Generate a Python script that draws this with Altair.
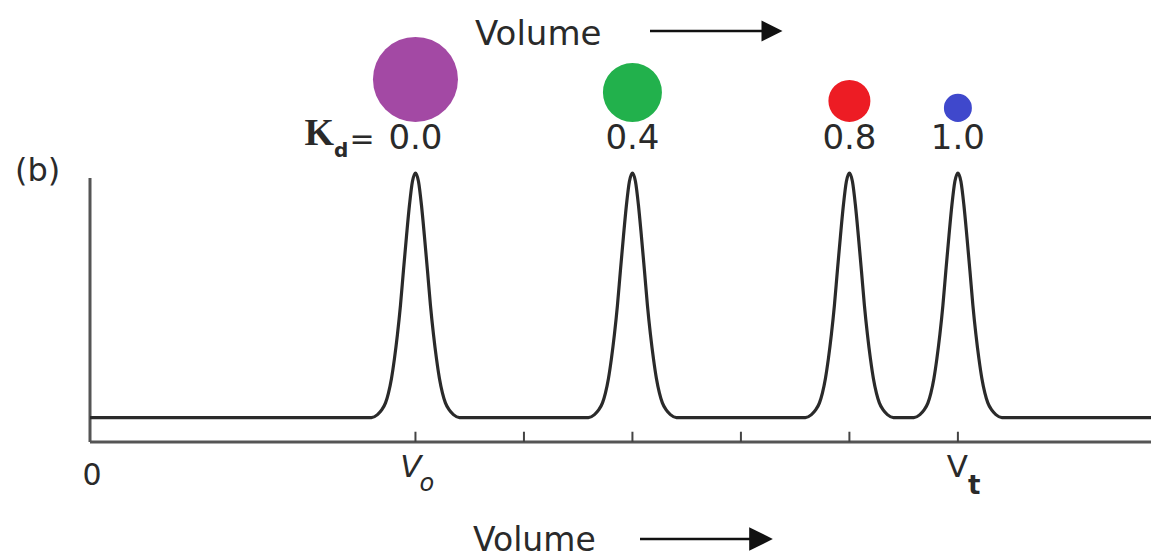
import altair as alt
import pandas as pd

# ---- data ----
x_domain = [0, 9.78]          # volume axis (tick spacing = 1 unit)
y_domain = [0, 11]
baseline_level = 1.0
peak_volume = [3, 5, 7, 8]    # V0 ... Vt
peak_height = [10, 10, 10, 10]
kd_labels = ["0.0", "0.4", "0.8", "1.0"]
# one peak's profile (offset from its centre in volume units, fraction of peak height)
profile_offset = [0, 0.028, 0.055, 0.083, 0.111, 0.138, 0.166, 0.194,
                  0.221, 0.249, 0.276, 0.313, 0.350, 0.406]
profile_shape = [1.0, 0.965, 0.87, 0.74, 0.60, 0.46, 0.34, 0.24,
                 0.16, 0.10, 0.06, 0.03, 0.012, 0.0]
tick_values = [3, 4, 5, 6, 7, 8]
yaxis_top = 10.8
molecule_rel_diam = [1.0, 0.694, 0.494, 0.329]
molecule_color = ["#A349A4", "#22B14C", "#ED1C24", "#3F48CC"]

# ---- build curve table ----
xs, ys = [x_domain[0]], [baseline_level]
for c, h in zip(peak_volume, peak_height):
    for o, s in zip(reversed(profile_offset), reversed(profile_shape)):
        if o > 0:
            xs.append(c - o); ys.append(baseline_level + h * s)
    for o, s in zip(profile_offset, profile_shape):
        xs.append(c + o); ys.append(baseline_level + h * s)
xs.append(x_domain[1]); ys.append(baseline_level)
curve = pd.DataFrame({"v": xs, "a": ys})

peaks = pd.DataFrame({"v": peak_volume, "kd": kd_labels,
                      "d": molecule_rel_diam, "col": molecule_color})
ticks = pd.DataFrame({"v": tick_values})

X = alt.Scale(domain=x_domain)
Y = alt.Scale(domain=y_domain)
TXT = "#2a2a2a"
FONT = "DejaVu Sans"

line = alt.Chart(curve).mark_line(interpolate="monotone", strokeWidth=3.2,
                                  color="#2a2a2a", clip=False).encode(
    x=alt.X("v:Q", scale=X, axis=None),
    y=alt.Y("a:Q", scale=Y, axis=None))

xaxis = alt.Chart(pd.DataFrame({"x0": [x_domain[0]], "x1": [x_domain[1]], "y0": [0]})).mark_rule(
    strokeWidth=3, color="#555555").encode(
    x=alt.X("x0:Q", scale=X, axis=None), x2="x1:Q", y=alt.Y("y0:Q", scale=Y, axis=None))

yaxis = alt.Chart(pd.DataFrame({"x0": [0], "y0": [0], "y1": [yaxis_top]})).mark_rule(
    strokeWidth=3, color="#555555").encode(
    x=alt.X("x0:Q", scale=X, axis=None), y=alt.Y("y0:Q", scale=Y, axis=None), y2="y1:Q")

tickmarks = alt.Chart(ticks).transform_calculate(y0="0", y1="0.42").mark_rule(
    strokeWidth=2, color="#444444").encode(
    x=alt.X("v:Q", scale=X, axis=None), y=alt.Y("y0:Q", scale=Y, axis=None), y2="y1:Q")

# circles sit on a common bottom line above the Kd labels
circles = alt.Chart(peaks).transform_calculate(
    yc="13.09 + 1.738 * datum.d", area="7225 * datum.d * datum.d").mark_circle(
    opacity=1, clip=False).encode(
    x=alt.X("v:Q", scale=X, axis=None),
    y=alt.Y("yc:Q", scale=Y, axis=None),
    size=alt.Size("area:Q", scale=None, legend=None),
    color=alt.Color("col:N", scale=None, legend=None))

kd_text = alt.Chart(peaks).mark_text(font=FONT, fontSize=34, color=TXT,
                                     align="center", baseline="alphabetic").encode(
    x=alt.X("v:Q", scale=X, axis=None), y=alt.value(-24), text="kd:N")


def label(txt, x, y, size, align="left", font=FONT, weight="normal", style="normal"):
    return alt.Chart(pd.DataFrame({"t": [txt]})).mark_text(
        font=font, fontSize=size, color=TXT, align=align, baseline="alphabetic",
        fontWeight=weight, fontStyle=style).encode(
        x=alt.value(x), y=alt.value(y), text="t:N")


k_label = label("K", 244, -28, 38, align="right", font="Liberation Serif", weight="bold")
d_label = label("d", 244, -16, 20, weight="bold")
eq_label = label("=", 272, -24, 30, align="center")
b_label = label("(b)", -75, 8, 32)
top_vol = label("Volume", 385, -128, 34)
bot_vol = label("Volume", 383, 378, 33)


def arrow_line(x1, x2, y):
    return alt.Chart(pd.DataFrame({"k": [0]})).mark_rule(strokeWidth=2.5, color="#111111").encode(
        x=alt.value(x1), x2=alt.value(x2), y=alt.value(y))


def arrow_head(x, y, size):
    return alt.Chart(pd.DataFrame({"k": [0]})).mark_point(
        shape="M -1 -1 L 1 0 L -1 1 Z", filled=True, opacity=1, color="#111111",
        size=size).encode(x=alt.value(x), y=alt.value(y))


arrows = [arrow_line(560, 675, -142), arrow_head(682, -142, 441),
          arrow_line(550, 668, 366), arrow_head(671, 366, 560)]

zero_lbl = alt.Chart(pd.DataFrame({"v": [0], "t": ["0"]})).mark_text(
    font=FONT, fontSize=30, color=TXT, align="center", baseline="alphabetic", dx=2).encode(
    x=alt.X("v:Q", scale=X, axis=None), y=alt.value(312), text="t:N")

v0_V = alt.Chart(pd.DataFrame({"v": [peak_volume[0]], "t": ["V"]})).mark_text(
    font=FONT, fontSize=31, fontStyle="italic", color=TXT, align="right",
    baseline="alphabetic", dx=6).encode(x=alt.X("v:Q", scale=X, axis=None), y=alt.value(304), text="t:N")
v0_o = alt.Chart(pd.DataFrame({"v": [peak_volume[0]], "t": ["o"]})).mark_text(
    font=FONT, fontSize=24, fontStyle="italic", color=TXT, align="left",
    baseline="alphabetic", dx=4).encode(x=alt.X("v:Q", scale=X, axis=None), y=alt.value(318), text="t:N")
vt_V = alt.Chart(pd.DataFrame({"v": [peak_volume[-1]], "t": ["V"]})).mark_text(
    font=FONT, fontSize=31, color=TXT, align="right",
    baseline="alphabetic", dx=10).encode(x=alt.X("v:Q", scale=X, axis=None), y=alt.value(304), text="t:N")
vt_t = alt.Chart(pd.DataFrame({"v": [peak_volume[-1]], "t": ["t"]})).mark_text(
    font=FONT, fontSize=26, fontWeight="bold", color=TXT, align="left",
    baseline="alphabetic", dx=10).encode(x=alt.X("v:Q", scale=X, axis=None), y=alt.value(321), text="t:N")

chart = alt.layer(
    xaxis, yaxis, tickmarks, line, circles, kd_text,
    k_label, d_label, eq_label, b_label, top_vol, bot_vol, *arrows,
    zero_lbl, v0_V, v0_o, vt_V, vt_t
).properties(
    width=1061, height=269, autosize="none",
    padding={"left": 90, "top": 173, "right": 0, "bottom": 117},
    background="white"
).configure_view(strokeWidth=0)

chart.save("out.html", embed_options={"renderer": "svg", "actions": False})
